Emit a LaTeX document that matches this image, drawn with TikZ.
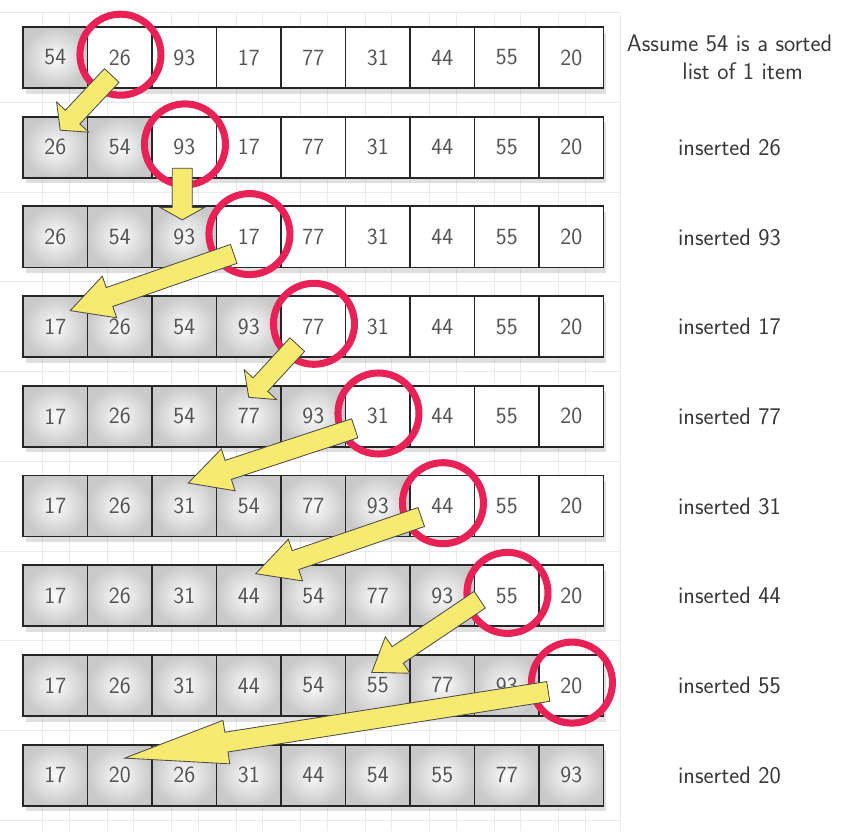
\documentclass[tikz,border=0pt]{standalone}
\usepackage{fontspec}
\usetikzlibrary{calc,shadows}

\definecolor{ringred}{RGB}{232,34,86}
\definecolor{arrowyellow}{RGB}{247,234,112}
\definecolor{cellink}{RGB}{85,85,85}
\definecolor{gridgray}{RGB}{234,234,234}

\tikzset{
  cell/.style={draw=black!85, line width=1.3pt, minimum width=1.6125cm,
    minimum height=1.525cm, inner sep=0pt, text=cellink,
    font=\sffamily\fontsize{16.5}{20}\selectfont,
    drop shadow={opacity=.25, shadow xshift=2pt, shadow yshift=-4pt}},
  sorted/.style={cell, inner color=gray!3, outer color=gray!42},
  unsorted/.style={cell, fill=white},
  ring/.style={circle, draw=ringred, line width=5pt, minimum size=2.025cm,
    inner sep=0pt},
  yarrow/.style={fill=arrowyellow, draw=black!70, line width=.6pt},
  caption/.style={align=center, text=black!78,
    font=\sffamily\fontsize{17}{19.5}\selectfont},
  gridline/.style={draw=gridgray, line width=.5pt}
}

% one row of the list: row number, values, caption
\newcommand{\listrow}[3]{%
  \foreach \v [count=\k] in {#2} {
    \ifnum\k>#1 \def\kind{unsorted}\else\def\kind{sorted}\fi
    \node[\kind] (c#1-\k) at ({-9.25+64.5*\k}, {57.5+89.7*(#1-1)}) {\v};
  }
  \node[caption] (l#1) at (729.5, {57.5+89.7*(#1-1)}) {#3};
}

% block arrow from tail to tip
\newcommand{\sortarrow}[2]{%
  \coordinate (neck) at ($(#2)!0.24!(#1)$);
  \draw[yarrow] ($(#1)!0.25cm!90:(#2)$) -- ($(neck)!0.25cm!90:(#2)$)
    -- ($(neck)!0.55cm!90:(#2)$) -- (#2) -- ($(neck)!0.55cm!-90:(#2)$)
    -- ($(neck)!0.25cm!-90:(#2)$) -- ($(#1)!0.25cm!-90:(#2)$) -- cycle;
}

\begin{document}
\begin{tikzpicture}[x=0.025cm, y=-0.025cm]
  \useasboundingbox (0,0) rectangle (856,831);

  % faint background grid
  \foreach \k in {1,...,9} {
    \draw[gridline] ({42.5+64.5*(\k-1)},13) -- ({42.5+64.5*(\k-1)},831);
    \draw[gridline] ({69+64.5*(\k-1)},13) -- ({69+64.5*(\k-1)},831);
  }
  \foreach \j in {0,...,9}
    \draw[gridline] (0,{12.65+89.7*\j}) -- (620,{12.65+89.7*\j});
  \draw[gridline] (620,13) -- (620,831);

  \listrow{1}{54,26,93,17,77,31,44,55,20}{Assume 54 is a sorted\\\hspace*{1.1em}list of 1 item}
  \listrow{2}{26,54,93,17,77,31,44,55,20}{inserted 26}
  \listrow{3}{26,54,93,17,77,31,44,55,20}{inserted 93}
  \listrow{4}{17,26,54,93,77,31,44,55,20}{inserted 17}
  \listrow{5}{17,26,54,77,93,31,44,55,20}{inserted 77}
  \listrow{6}{17,26,31,54,77,93,44,55,20}{inserted 31}
  \listrow{7}{17,26,31,44,54,77,93,55,20}{inserted 44}
  \listrow{8}{17,26,31,44,54,55,77,93,20}{inserted 55}
  \listrow{9}{17,20,26,31,44,54,55,77,93}{inserted 20}

  % item being inserted
  \foreach \r in {1,...,8} {
    \pgfmathtruncatemacro\k{\r+1}
    \node[ring, xshift=.5pt, yshift=2pt] (o\r) at (c\r-\k) {};
  }

  % where it goes
  \foreach \from/\fx/\fy/\to/\tx/\ty in {
      c1-2/-8/18/c2-1/5/-17, c2-3/-2/21/c3-3/-2/-17,
      c3-4/-15/17/c4-1/15/-16, c4-5/-16/18/c5-4/0/-19,
      c5-6/-23/12/c6-3/4/-23, c6-7/-21/11/c7-4/7/-22,
      c7-8/-27/4/c8-6/-6/-13, c8-9/-23/6/c9-2/5/-17} {
    \coordinate (tail) at ($(\from)+(\fx,\fy)$);
    \coordinate (tip) at ($(\to)+(\tx,\ty)$);
    \sortarrow{tail}{tip}
  }
\end{tikzpicture}
\end{document}
